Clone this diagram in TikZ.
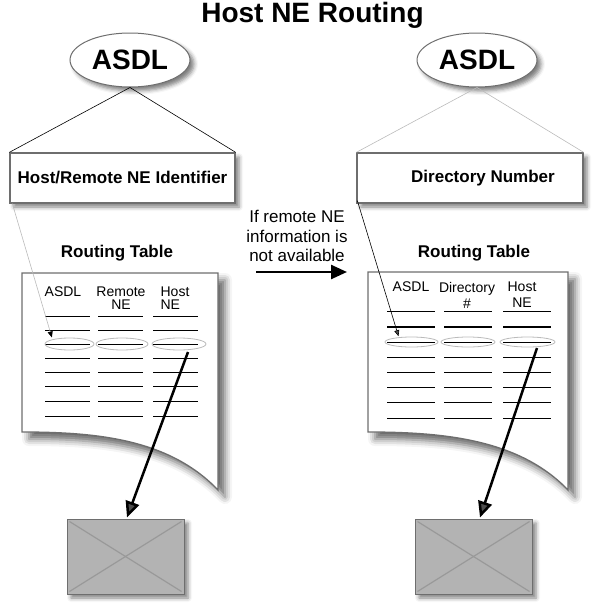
\documentclass[tikz,border=0pt]{standalone}
\usepackage{fontspec}
\setmainfont{Liberation Sans}
\usetikzlibrary{shapes.geometric,shadows.blur,arrows.meta,calc}
\definecolor{bordergray}{HTML}{6E6E6E}
\definecolor{boxgray}{HTML}{B3B3B3}
\definecolor{xgray}{HTML}{999999}
\definecolor{lightline}{HTML}{BBBBBB}
\tikzset{
  softshadow/.style={blur shadow={shadow xshift=4pt, shadow yshift=-4pt, shadow blur radius=4pt, shadow opacity=50}},
  oval/.style={ellipse, draw=bordergray, line width=1pt, fill=white, minimum width=120pt, minimum height=54pt, inner sep=0pt, font=\fontsize{28}{30}\selectfont\bfseries, softshadow},
  idbox/.style={draw=bordergray, line width=1.3pt, fill=white, minimum height=50pt, inner sep=0pt, font=\fontsize{17}{19}\selectfont\bfseries, softshadow},
  boldlabel/.style={font=\fontsize{17}{19}\selectfont\bfseries, inner sep=0pt},
  hdr/.style={font=\fontsize{14}{13}\selectfont, inner sep=0pt, align=center},
  hdrtwo/.style={font=\fontsize{14}{16}\selectfont, inner sep=0pt, align=center},
  rowoval/.style={ellipse, draw=lightline, line width=0.8pt, inner sep=0pt},
  doc/.style={draw=bordergray, line width=1.3pt, fill=white, blur shadow={shadow xshift=7pt, shadow yshift=-7pt, shadow blur radius=7pt, shadow opacity=60}},
  graybox/.style={draw=bordergray, line width=1pt, fill=boxgray, minimum width=117pt, minimum height=75pt, inner sep=0pt, softshadow},
  xline/.style={xgray, line width=1.2pt},
  bigarrow/.style={line width=2.5pt, -{Triangle[length=16pt,width=14pt]}},
  thinarrow/.style={line width=0.6pt, -{Triangle[length=6pt,width=5pt]}},
  rowline/.style={line width=0.9pt},
}
\begin{document}
\begin{tikzpicture}[x=1pt,y=-1pt]
\useasboundingbox (0,0) rectangle (596,608);

% title
\node[font=\fontsize{28}{30}\selectfont\bfseries, inner sep=0pt, anchor=base] (title) at (312.5,22) {Host NE Routing};

% ellipses and boxes
\node[oval] (e1) at (130,60) {ASDL};
\node[oval] (e2) at (477,60) {ASDL};
\node[idbox, minimum width=225pt] (b1) at (122.5,178) {Host/Remote NE Identifier};
\node[idbox, minimum width=226pt] (b2) at (470,178) {};
\node[boldlabel] (t2) at (483,178) {Directory Number};

\draw[line width=0.6pt] (e1.south) -- (b1.north west);
\draw[line width=0.6pt] (e1.south) -- (b1.north east);
\draw[lightline, line width=0.6pt] (e2.south) -- (b2.north west);
\draw[lightline, line width=0.6pt] (e2.south) -- (b2.north east);

% routing table titles
\node[boldlabel] (rt1) at (117,253) {Routing Table};
\node[boldlabel] (rt2) at (474,253) {Routing Table};

% middle text and arrow
\node[font=\fontsize{17}{19.5}\selectfont, align=center, inner sep=0pt] (mid) at (297,236) {If remote NE\\information is\\not available};
\coordinate (ma) at (256,272);
\coordinate (mb) at (347,272);
\draw[bigarrow] (ma) -- (mb);

% documents
\path[doc] (22,273) -- (218,273) -- (218,490) .. controls (170,440) and (100,432) .. (22,432) -- cycle;
\path[doc] (368,272) -- (568,272) -- (568,490) .. controls (520,440) and (446,432) .. (368,432) -- cycle;

% left table
\node[hdr] (la) at (63,292) {ASDL};
\node[hdr] (lr) at (121,298.5) {Remote\\NE};
\node[hdr, align=left] (lh) at (175,298.5) {Host\\NE};
\foreach \y in {316,330,344,358,372,386,401,416} {
  \draw[rowline] (45,\y) -- (90,\y);
  \draw[rowline] (98,\y) -- (143,\y);
  \draw[rowline] (153,\y) -- (198,\y);
}
\node[rowoval, minimum width=49pt, minimum height=12pt] (l1) at (69.5,344) {};
\node[rowoval, minimum width=52pt, minimum height=12pt] (l2) at (122,344) {};
\node[rowoval, minimum width=54pt, minimum height=12pt] (l3) at (179,344) {};

% right table
\node[hdr] (ra) at (411,287) {ASDL};
\node[hdrtwo] (rd) at (467,295) {Directory\\\#};
\node[hdrtwo] (rh) at (522,295) {Host\\NE};
\foreach \y in {311,342,357,372,387,402,418} {
  \draw[rowline] (387,\y) -- (435,\y);
  \draw[rowline] (444,\y) -- (492,\y);
  \draw[rowline] (503,\y) -- (551,\y);
}
\draw[line width=2pt] (387,327) -- (435,327);
\draw[line width=2pt] (444,327) -- (492,327);
\draw[line width=2pt] (503,327) -- (551,327);
\node[rowoval, minimum width=53pt, minimum height=10pt] (r1) at (411.5,342) {};
\node[rowoval, minimum width=54pt, minimum height=10pt] (r2) at (468,342) {};
\node[rowoval, minimum width=55pt, minimum height=10pt] (r3) at (527.5,342) {};

% gray boxes
\node[graybox] (g1) at (125.5,556.5) {};
\node[graybox] (g2) at (473.5,556.5) {};
\draw[xline] ($(g1.north west)+(3,3)$) -- ($(g1.south east)+(-3,-3)$);
\draw[xline] ($(g1.north east)+(-3,3)$) -- ($(g1.south west)+(3,-3)$);
\draw[xline] ($(g2.north west)+(3,3)$) -- ($(g2.south east)+(-3,-3)$);
\draw[xline] ($(g2.north east)+(-3,3)$) -- ($(g2.south west)+(3,-3)$);

% thin arrows
\draw[thinarrow, lightline, -{Triangle[length=6pt,width=5pt,color=black]}] ($(b1.south west)+(3,0)$) -- ($(l1.north west)+(0,-2)$);
\draw[thinarrow] ($(b2.south west)+(1,-3)$) -- ($(r1.north west)+(6,-2)$);

% thick arrows
\draw[bigarrow] ($(l3.center)+(9,8)$) -- ($(g1.north)+(1.5,-1)$);
\draw[bigarrow] ($(r3.center)+(9.5,6)$) -- ($(g2.north)+(6.5,-1)$);
\end{tikzpicture}
\end{document}
